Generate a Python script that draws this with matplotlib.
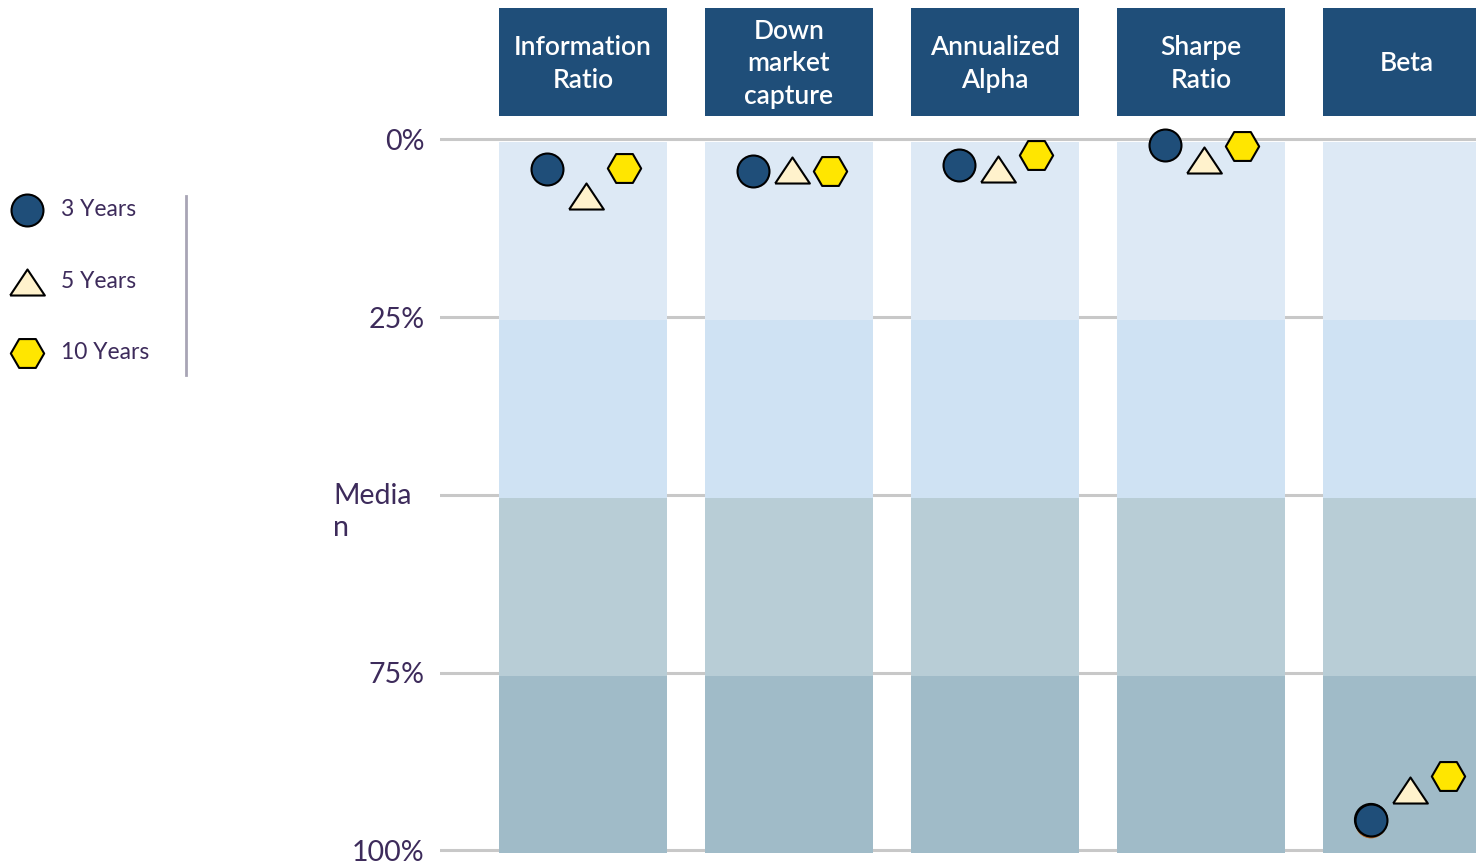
import matplotlib
matplotlib.use("Agg")
import matplotlib.pyplot as plt
import matplotlib.patheffects as pe
from matplotlib.lines import Line2D
import numpy as np

# percentile rank within peer group (0% = best, 100% = worst)
metrics = ["Information\nRatio", "Down\nmarket\ncapture", "Annualized\nAlpha",
           "Sharpe\nRatio", "Beta"]
series_names = ["3 Years", "5 Years", "10 Years"]
rank_3y = [4.1, 4.5, 3.6, 0.8, 95.7]
rank_5y = [8.0, 4.3, 4.1, 2.9, 91.5]
rank_10y = [4.0, 4.4, 2.2, 0.9, 89.5]
band_edges = [0, 25, 50, 75, 100]
tick_labels = ["0%", "25%", "", "75%", "100%"]
median_label = "Media\nn"

NAVY = "#1f4e79"
TEXT = "#3d2b5b"
band_colors = ["#dde9f5", "#cfe2f3", "#b8cdd6", "#a0bbc8"]
marker_styles = [
    dict(marker="o", c="#1f4e79", s=23 ** 2),
    dict(marker=[(-1, -0.75), (1, -0.75), (0, 0.75), (-1, -0.75)], c="#fff2cc", s=25 ** 2),
    dict(marker="H", c="#ffe600", s=24 ** 2),
]
offsets = [-0.175, 0.016, 0.2]

plt.rcParams["font.family"] = ["Lato", "DejaVu Sans"]

fig = plt.figure(figsize=(14.76, 8.61), dpi=100)
ax = fig.add_axes([440 / 1476, 0, 1036 / 1476, 1])

x = np.arange(len(metrics))
width = 0.8155
shift = 0.4  # bands sit a hair below the gridlines

# background percentile bands
for lo, hi, col in zip(band_edges[:-1], band_edges[1:], band_colors):
    ax.bar(x, hi - lo, bottom=lo + shift, width=width, color=col, zorder=1)

# header boxes
ax.bar(x, 15.2, bottom=-18.5, width=width, color=NAVY, zorder=1, clip_on=False)
for xi, name in zip(x, metrics):
    ax.text(xi, -10.65, name, ha="center", va="center", color="white",
            fontsize=19, fontweight="semibold", linespacing=1.38, zorder=3)

series = [rank_3y, rank_5y, rank_10y]
handles = []
for vals, name, st, off in zip(series, series_names, marker_styles, offsets):
    if name == "3 Years":
        # small shadow under the beta marker
        ax.scatter(x[-1] + off, vals[-1], marker=st["marker"], s=st["s"], c=st["c"],
                   edgecolors="black", linewidths=1.5, zorder=4,
                   path_effects=[pe.SimplePatchShadow(offset=(0, -1.8), shadow_rgbFace="#b0601c", alpha=1),
                                 pe.Normal()])
    sc = ax.scatter(x + off, vals, marker=st["marker"], s=st["s"], c=st["c"],
                    edgecolors="black", linewidths=1.5, zorder=5, label=name)
    handles.append(sc)

ax.set_xlim(-0.694, 4.335)
ax.set_ylim(101.48, -19.62)
ax.set_yticks(band_edges, tick_labels)
ax.tick_params(axis="y", length=0, pad=11, labelsize=20.5, labelcolor=TEXT)
ax.set_xticks([])
ax.grid(axis="y", color="#c8c8c8", linewidth=2.2)
ax.set_axisbelow(True)
for sp in ax.spines.values():
    sp.set_visible(False)

fig.text(333 / 1476, 1 - 483 / 861, median_label, ha="left", va="top",
         fontsize=20.5, color=TEXT, linespacing=1.3)

fig.legend(handles=handles, loc="upper left", bbox_to_anchor=(-5 / 1476, 1 - 190 / 861),
           frameon=False, fontsize=16.5, labelcolor=TEXT, labelspacing=2.2,
           handletextpad=0.5, scatterpoints=1, borderaxespad=0)
fig.add_artist(Line2D([186 / 1476, 186 / 1476], [1 - 196 / 861, 1 - 375 / 861],
                      color="#a8a5b5", linewidth=2))

fig.savefig("out.png", dpi=100)
